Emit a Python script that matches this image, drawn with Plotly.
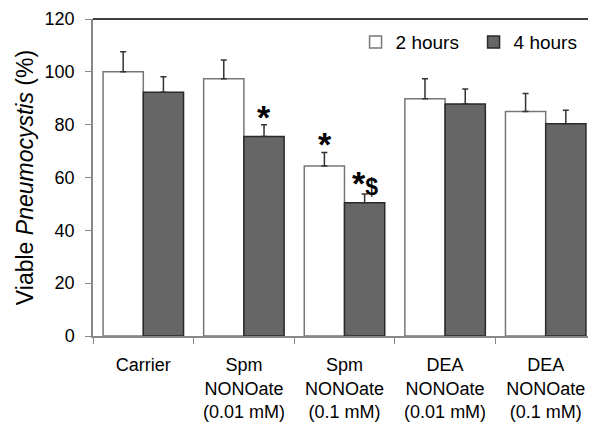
import plotly.graph_objects as go

categories = ["Carrier", "Spm<br>NONOate<br>(0.01 mM)", "Spm<br>NONOate<br>(0.1 mM)",
              "DEA<br>NONOate<br>(0.01 mM)", "DEA<br>NONOate<br>(0.1 mM)"]
series_names = ["2 hours", "4 hours"]
values_2h = [100.0, 97.4, 64.4, 89.8, 85.0]
errors_2h = [7.6, 7.1, 5.1, 7.6, 6.8]
values_4h = [92.3, 75.5, 50.4, 87.8, 80.3]
errors_4h = [5.8, 4.5, 3.4, 5.7, 5.2]

# significance markers: (category index, series index, text)
marks = [(1, 1, "*"), (2, 0, "*"), (2, 1, "*$")]

FONT = "Liberation Sans, Arial, sans-serif"

fig = go.Figure()
fig.add_trace(go.Bar(
    x=categories, y=values_2h, name=series_names[0],
    marker=dict(color="white", line=dict(color="#777777", width=1.5)),
    error_y=dict(type="data", array=errors_2h, symmetric=False,
                 arrayminus=[0] * len(errors_2h), color="#333333",
                 thickness=1.5, width=3),
))
fig.add_trace(go.Bar(
    x=categories, y=values_4h, name=series_names[1],
    marker=dict(color="#666666", line=dict(color="#2a2a2a", width=1.5)),
    error_y=dict(type="data", array=errors_4h, symmetric=False,
                 arrayminus=[0] * len(errors_4h), color="#333333",
                 thickness=1.5, width=3),
))

vals = [values_2h, values_4h]
errs = [errors_2h, errors_4h]
for ci, si, txt in marks:
    if txt == "*$":
        label = "<b>*<span style='font-size:23px'>$</span></b>"
        ysh = -10
    else:
        label = "<b>*</b>"
        ysh = -13
    fig.add_annotation(
        x=categories[ci], y=vals[si][ci] + errs[si][ci],
        text=label, showarrow=False,
        xshift=-20 if si == 0 else 20,
        yanchor="bottom", yshift=ysh,
        font=dict(family=FONT, size=34, color="black"),
    )

fig.add_shape(type="line", xref="paper", yref="paper", x0=0, x1=1, y0=1, y1=1,
              line=dict(color="black", width=1.5))

# the page body adds an 8px margin, so the figure is 8px smaller than the window
fig.update_layout(
    width=588, height=416,
    margin=dict(l=85, r=0, t=11, b=88, autoexpand=False),
    paper_bgcolor="white", plot_bgcolor="white",
    barmode="group", bargap=0.2, bargroupgap=0,
    font=dict(family=FONT, size=18, color="black"),
    showlegend=True,
    legend=dict(orientation="h", x=0.522, y=0.927, xanchor="left", yanchor="middle",
                font=dict(size=19), itemwidth=30, entrywidth=73,
                bgcolor="rgba(0,0,0,0)", traceorder="normal"),
)
fig.update_xaxes(
    showline=True, linecolor="#888888", linewidth=1.5, automargin=False,
    ticks="outside", tickson="boundaries", ticklen=6, tickcolor="#888888",
    tickfont=dict(size=18), tickangle=0, ticklabelstandoff=12, showgrid=False,
)
fig.update_yaxes(
    range=[0, 120], dtick=20, showline=True, linecolor="#888888", linewidth=1.5,
    automargin=False,
    ticks="outside", ticklen=6, tickcolor="#888888", showgrid=False, zeroline=False,
    tickfont=dict(size=18), ticklabelstandoff=7,
    title=dict(text="Viable <i>Pneumocystis</i> (%)", font=dict(size=23), standoff=5),
)

fig.write_html("out.html")
